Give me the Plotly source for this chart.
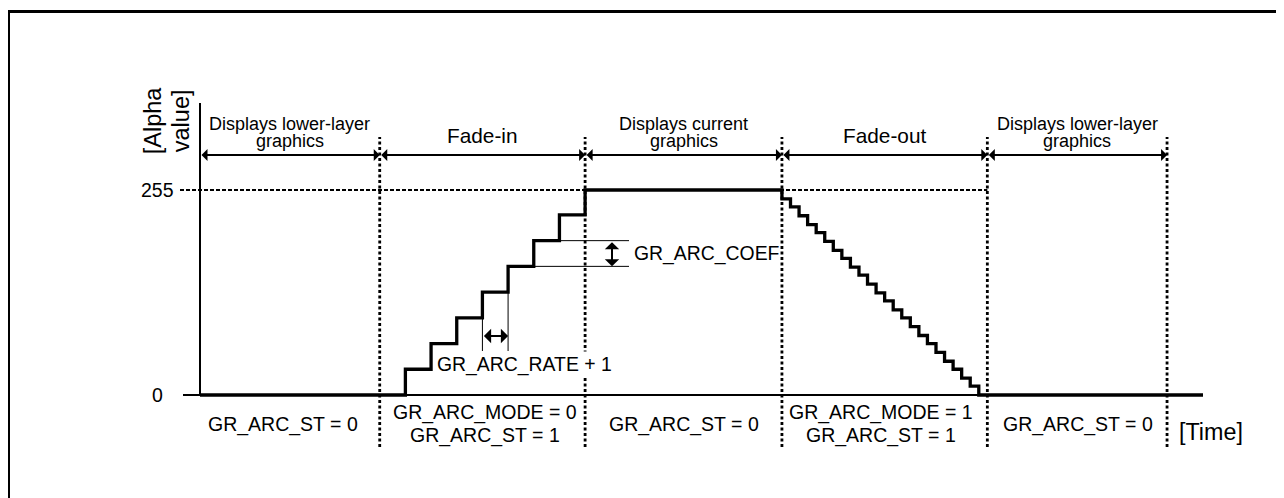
# Alpha blending fade-in / fade-out timing diagram
import plotly.graph_objects as go

# ==== Data ====
phase_bounds = [0, 21, 45, 68, 92, 113]          # time at the edges of each display phase
fade_in_times = [24, 27, 30, 33, 36, 39, 42, 45]  # one step every GR_ARC_RATE + 1
fade_in_levels = [32, 64, 96, 128, 160, 192, 224, 255]
fade_out_times = [68, 69, 70, 71, 72, 73, 74, 75, 76, 77, 78, 79,
                  80, 81, 82, 83, 84, 85, 86, 87, 88, 89, 90, 91]
fade_out_levels = [244, 234, 223, 212, 202, 191, 180, 170, 159, 149, 138, 127,
                   117, 106, 96, 85, 74, 64, 53, 42, 32, 21, 11, 0]
time_end = 117.2
alpha_max = 255
y_tick_values = [0, 255]
y_tick_text = ["0", "255"]

phase_titles = [
    ["Displays lower-layer", "graphics"],
    ["Fade-in"],
    ["Displays current", "graphics"],
    ["Fade-out"],
    ["Displays lower-layer", "graphics"],
]
status_labels = [
    ["GR_ARC_ST = 0"],
    ["GR_ARC_MODE = 0", "GR_ARC_ST = 1"],
    ["GR_ARC_ST = 0"],
    ["GR_ARC_MODE = 1", "GR_ARC_ST = 1"],
    ["GR_ARC_ST = 0"],
]

# ==== Page geometry (pixel <-> data) ====
PAGE_W, PAGE_H = 1284, 498
OFF = 8                       # default body margin of the html page
W, H = PAGE_W - OFF, PAGE_H - OFF
X0_PX, X_SCALE = 200.0, 8.558          # page px of t=0, px per time unit
Y0_PX, Y_SCALE = 395.0, 205.0 / 255.0  # page px of alpha=0, px per alpha unit


def px_x(p):
    return (p - X0_PX) / X_SCALE


def px_y(p):
    return (Y0_PX - p) / Y_SCALE


FONT = "Liberation Sans, Arial, Helvetica, sans-serif"
BLACK = "black"

fig = go.Figure()

# ==== Alpha value staircase ====
step_x = [phase_bounds[0]] + fade_in_times + fade_out_times + [time_end]
step_y = [0] + fade_in_levels + fade_out_levels + [0]
fig.add_trace(
    go.Scatter(
        x=step_x,
        y=step_y,
        mode="lines",
        line=dict(color=BLACK, width=3.3, shape="hv"),
        hoverinfo="skip",
    )
)

shapes = []
# frame (top and left edges only)
fx = (8.5 - OFF) / W
fy = 1 - (11.5 - OFF) / H
shapes.append(dict(
    type="path", xref="paper", yref="paper",
    path=f"M {fx},-0.1 L {fx},{fy} L 1.1,{fy}",
    line=dict(color=BLACK, width=3),
))
# axes
shapes.append(dict(type="line", x0=0, x1=0, y0=0, y1=px_y(103),
                   line=dict(color=BLACK, width=2)))
shapes.append(dict(type="line", x0=px_x(183), x1=time_end, y0=0, y1=0,
                   line=dict(color=BLACK, width=2.2)))
# 255 guide
shapes.append(dict(type="line", x0=px_x(180), x1=phase_bounds[4], y0=alpha_max, y1=alpha_max,
                   line=dict(color=BLACK, width=2, dash="4px,2px")))
# phase boundaries
for b in phase_bounds[1:]:
    shapes.append(dict(type="line", x0=b, x1=b, y0=px_y(447), y1=px_y(137),
                       line=dict(color=BLACK, width=2.8, dash="3px,2.5px")))

# GR_ARC_COEF guides
coef_hi, coef_lo = fade_in_levels[5], fade_in_levels[4]
shapes.append(dict(type="line", x0=fade_in_times[6], x1=px_x(629), y0=coef_hi, y1=coef_hi,
                   line=dict(color=BLACK, width=1)))
shapes.append(dict(type="line", x0=fade_in_times[5], x1=px_x(629), y0=coef_lo, y1=coef_lo,
                   line=dict(color=BLACK, width=1)))
# GR_ARC_RATE guides
shapes.append(dict(type="line", x0=fade_in_times[3], x1=fade_in_times[3],
                   y0=fade_in_levels[2], y1=px_y(351), line=dict(color=BLACK, width=1)))
shapes.append(dict(type="line", x0=fade_in_times[4], x1=fade_in_times[4],
                   y0=fade_in_levels[3], y1=px_y(351), line=dict(color=BLACK, width=1)))

annotations = []


def text(x, y, s, size, **kw):
    d = dict(x=x, y=y, text=s, showarrow=False, xref="x", yref="y",
             font=dict(family=FONT, size=size, color=BLACK),
             xanchor="center", yanchor="middle")
    d.update(kw)
    annotations.append(d)


def double_arrow(x0, y0, x1, y1, size):
    annotations.append(dict(
        x=x1, y=y1, ax=x0, ay=y0, xref="x", yref="y", axref="x", ayref="y",
        text="", showarrow=True, arrowside="end+start",
        arrowhead=1, startarrowhead=1, arrowsize=size, startarrowsize=size,
        arrowwidth=2, arrowcolor=BLACK, standoff=0, startstandoff=0,
    ))


# phase arrows and titles
arrow_y = px_y(155)
for i in range(len(phase_titles)):
    a, b = phase_bounds[i], phase_bounds[i + 1]
    mid = (a + b) / 2
    double_arrow(a, arrow_y, b, arrow_y, 1.0)
    lines = phase_titles[i]
    if len(lines) == 1:
        text(mid, px_y(135.5), lines[0], 20.8)
    else:
        text(mid, px_y(123.5), lines[0], 18)
        text(mid, px_y(140.7), lines[1], 18)

# register state labels
status_dx = [-0.8, 0.3, 0.0, -0.4, 0.1]
for i in range(len(status_labels)):
    mid = (phase_bounds[i] + phase_bounds[i + 1]) / 2 + status_dx[i]
    lines = status_labels[i]
    if len(lines) == 1:
        text(mid, px_y(424.2), lines[0], 19.5)
    else:
        text(mid, px_y(412), lines[0], 19.5)
        text(mid, px_y(435.5), lines[1], 19.5)

# y ticks and axis titles
for v, s in zip(y_tick_values, y_tick_text):
    text(px_x(157), v, s, 19.5)
text(px_x(152.7), px_y(120.5), "[Alpha", 23.5, textangle=-90)
text(px_x(180.7), px_y(120.5), "value]", 23.5, textangle=-90)
text(px_x(1176.5), px_y(431.7), "[Time]", 23.3, xanchor="left")

# GR_ARC_COEF marker
double_arrow(px_x(612), coef_hi, px_x(612), coef_lo, 1.2)
text(px_x(632), px_y(253.3), "GR_ARC_COEF", 19.4, xanchor="left")

# GR_ARC_RATE + 1 marker
double_arrow(fade_in_times[3], px_y(336), fade_in_times[4], px_y(336), 1.2)
text(px_x(435), px_y(364.5), "GR_ARC_RATE + 1", 19.4, xanchor="left", bgcolor="white")

fig.update_layout(
    width=W,
    height=H,
    margin=dict(l=0, r=0, t=0, b=0),
    paper_bgcolor="white",
    plot_bgcolor="white",
    showlegend=False,
    xaxis=dict(range=[px_x(OFF), px_x(PAGE_W)], visible=False, fixedrange=True),
    yaxis=dict(range=[px_y(PAGE_H), px_y(OFF)], visible=False, fixedrange=True),
    shapes=shapes,
    annotations=annotations,
)

fig.write_html("out.html")
